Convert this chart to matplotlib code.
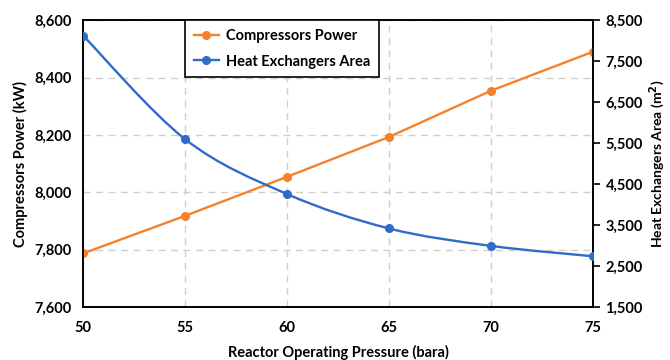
import matplotlib
matplotlib.use("Agg")
import matplotlib.pyplot as plt
from matplotlib.path import Path
from matplotlib.patches import PathPatch
from matplotlib.ticker import FuncFormatter

pressure = [50, 55, 60, 65, 70, 75]
compressor_power = [7787, 7918, 8054, 8193, 8354, 8490]
hx_area = [8125, 5597, 4258, 3418, 2993, 2740]

ORANGE = "#F5822A"
BLUE = "#2F6BC8"

plt.rcParams["font.family"] = ["Lato", "DejaVu Sans"]
plt.rcParams["font.weight"] = "bold"
plt.rcParams["axes.labelweight"] = "bold"


def smooth_path(xs, ys):
    """Excel-like smoothed line as cubic bezier segments (Catmull-Rom)."""
    verts = [(xs[0], ys[0])]
    codes = [Path.MOVETO]
    n = len(xs)
    for i in range(n - 1):
        x0, y0 = (xs[i - 1], ys[i - 1]) if i > 0 else (xs[i], ys[i])
        x1, y1 = xs[i], ys[i]
        x2, y2 = xs[i + 1], ys[i + 1]
        x3, y3 = (xs[i + 2], ys[i + 2]) if i + 2 < n else (x2, y2)
        c1 = (x1 + (x2 - x0) / 6, y1 + (y2 - y0) / 6)
        c2 = (x2 - (x3 - x1) / 6, y2 - (y3 - y1) / 6)
        verts += [c1, c2, (x2, y2)]
        codes += [Path.CURVE4] * 3
    return Path(verts, codes)


fig = plt.figure(figsize=(6.7, 3.6), dpi=100)
ax = fig.add_axes([0.124, 0.147, 0.761, 0.797])
ax2 = ax.twinx()

thousands = FuncFormatter(lambda v, p: f"{v:,.0f}")

orange_line, = ax.plot(pressure, compressor_power, color=ORANGE, lw=1.7,
                       marker="o", ms=5.5, label="Compressors Power", zorder=3)
ax2.add_patch(PathPatch(smooth_path(pressure, hx_area), facecolor="none",
                        edgecolor=BLUE, lw=1.7, zorder=3))
ax2.plot(pressure, hx_area, color=BLUE, lw=0, marker="o", ms=5.5, zorder=3)
blue_handle, = ax2.plot([], [], color=BLUE, lw=1.7, marker="o", ms=5.5,
                        label="Heat Exchangers Area")

ax.set_xlim(50, 75)
ax.set_ylim(7600, 8600)
ax2.set_ylim(1500, 8500)
ax.set_xticks(pressure)
ax.set_yticks(range(7600, 8601, 200))
ax2.set_yticks(range(1500, 8501, 1000))
ax.yaxis.set_major_formatter(thousands)
ax2.yaxis.set_major_formatter(thousands)

ax.grid(True, color="#CFCFCF", linestyle=(0, (5, 4)), lw=1)
ax.set_axisbelow(True)
ax.tick_params(axis="x", length=0, labelsize=10.5, pad=10)
ax.tick_params(axis="y", length=0, labelsize=10.5, pad=8)
ax2.tick_params(axis="y", length=5, width=1.2, labelsize=10.5, pad=4)
for s in ax.spines.values():
    s.set_linewidth(1.2)
for s in ax2.spines.values():
    s.set_linewidth(1.2)

ax.set_xlabel("Reactor Operating Pressure (bara)", fontsize=10.5, labelpad=7)
ax.set_ylabel("Compressors Power (kW)", fontsize=10.5, labelpad=5)
ax2.set_ylabel("Heat Exchangers Area (m$^\\mathbf{2}$)", fontsize=10, labelpad=3)

leg = ax2.legend(handles=[orange_line, blue_handle], loc="upper left",
                 bbox_to_anchor=(0.2, 1.0), borderaxespad=0, fontsize=10.5,
                 frameon=True, fancybox=False, framealpha=1, edgecolor="black",
                 borderpad=0.6, handlelength=1.7, handletextpad=0.5,
                 labelspacing=0.8)
leg.get_frame().set_linewidth(1.2)

fig.savefig("out.png", dpi=100)
